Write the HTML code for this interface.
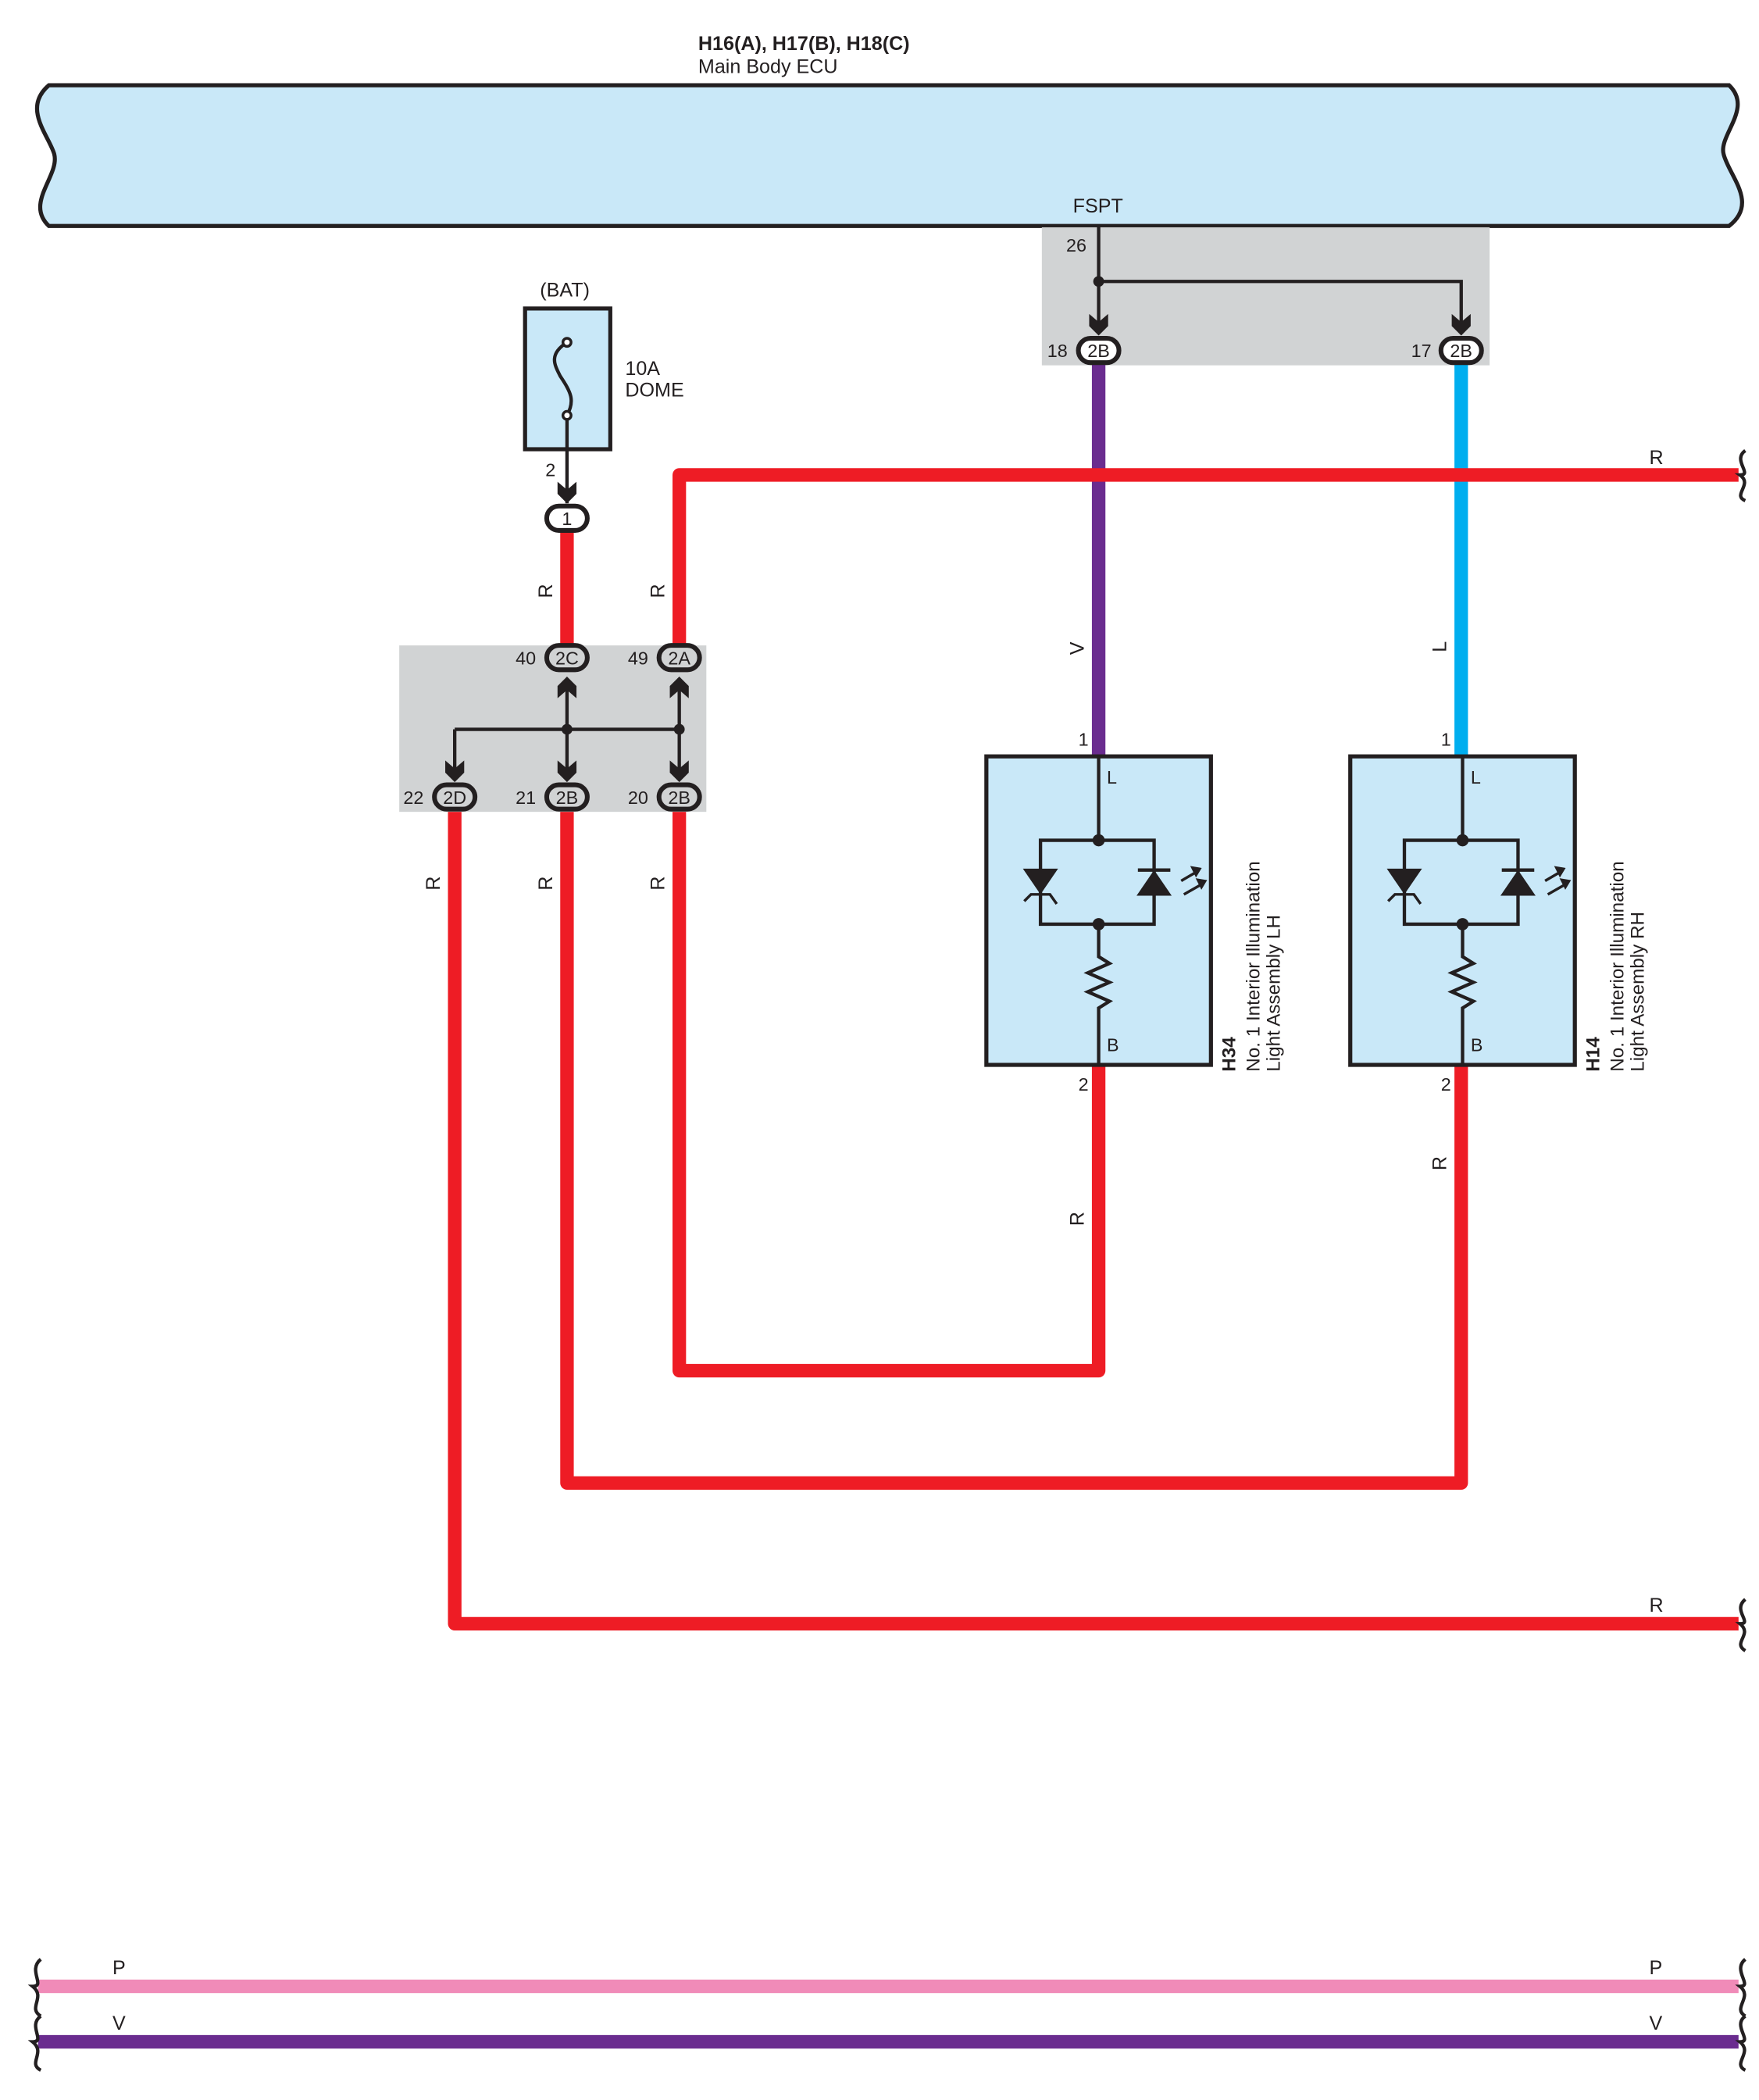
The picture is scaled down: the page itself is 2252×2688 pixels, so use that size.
<!DOCTYPE html>
<html><head><meta charset="utf-8"><style>
html,body{margin:0;padding:0;background:#fff;}
svg{display:block;}
text{font-family:"Liberation Sans",sans-serif;fill:#231f20;}
</style></head><body>
<svg width="2252" height="2688" viewBox="0 0 1300 1552" xmlns="http://www.w3.org/2000/svg">
<defs>
<path id="ad" d="M-7,-11 L0,-5 L7,-11 L7,-2 L0,5 L-7,-2 Z" fill="#231f20"/>
<path id="au" d="M-7,11 L0,5 L7,11 L7,2 L0,-5 L-7,2 Z" fill="#231f20"/>
<g id="con"><rect x="-15" y="-9" width="30" height="18" rx="9" fill="#fff" stroke="#231f20" stroke-width="3.5"/></g>
<g id="conG"><rect x="-15" y="-9" width="30" height="18" rx="9" fill="#d1d3d4" stroke="#231f20" stroke-width="3.5"/></g>
</defs>

<!-- ECU -->
<text x="516" y="37" font-size="14.5" font-weight="bold">H16(A), H17(B), H18(C)</text>
<text x="516" y="54" font-size="14.5">Main Body ECU</text>
<path d="M36,63 L1278,63 C1296,80 1270,100 1274,114 C1278,130 1300,150 1278,167 L36,167 C18,150 44,130 40,114 C36,100 16,80 36,63 Z" fill="#c9e8f8" stroke="#231f20" stroke-width="3"/>
<text x="793" y="157" font-size="14.5">FSPT</text>

<!-- top gray box -->
<rect x="770" y="168" width="331" height="102" fill="#d1d3d4"/>
<text x="788" y="186" font-size="13.5">26</text>
<path d="M812,167 V242 M812,208 H1080 V242" stroke="#231f20" stroke-width="2.5" fill="none"/>
<circle cx="812" cy="208" r="4" fill="#231f20"/>
<use href="#ad" x="812" y="243"/><use href="#ad" x="1080" y="243"/>
<rect x="807" y="268" width="10" height="291" fill="#6a2c8f"/>
<rect x="1075" y="268" width="10" height="291" fill="#00aeef"/>
<use href="#con" x="812" y="259"/><text x="812" y="264" font-size="13.5" text-anchor="middle">2B</text>
<use href="#con" x="1080" y="259"/><text x="1080" y="264" font-size="13.5" text-anchor="middle">2B</text>
<text x="774" y="264" font-size="13.5">18</text>
<text x="1043" y="264" font-size="13.5">17</text>

<!-- red wires -->
<g stroke="#ee1c25" stroke-width="10" fill="none" stroke-linejoin="round">
<path d="M1285,351 H502 V478"/>
<path d="M419,392 V478"/>
<path d="M502,598 V1013 H812 V786"/>
<path d="M419,598 V1096 H1080 V786"/>
<path d="M336,598 V1200 H1285"/>
</g>
<text x="1219" y="343" font-size="14.5">R</text>
<text x="1219" y="1191" font-size="14.5">R</text>
<path d="M1290,333 C1280,340 1296,351 1286,351 C1296,358 1280,366 1290,370" stroke="#231f20" stroke-width="2.5" fill="none"/>
<path d="M1290,1182 C1280,1190 1296,1200 1286,1200 C1296,1208 1280,1214 1290,1220" stroke="#231f20" stroke-width="2.5" fill="none"/>

<!-- fuse -->
<text x="399" y="219" font-size="14.5">(BAT)</text>
<rect x="388" y="228" width="63" height="104" fill="#c9e8f8" stroke="#231f20" stroke-width="3"/>
<path d="M419,253 C405,262 410,270 414,278 C422,290 425,296 419,307 M419,307 V372" stroke="#231f20" stroke-width="2.5" fill="none"/>
<circle cx="419" cy="253" r="3" fill="#fff" stroke="#231f20" stroke-width="2"/>
<circle cx="419" cy="307" r="3" fill="#fff" stroke="#231f20" stroke-width="2"/>
<text x="462" y="277" font-size="14.5">10A</text>
<text x="462" y="293" font-size="14.5">DOME</text>
<text x="403" y="352" font-size="13.5">2</text>
<use href="#ad" x="419" y="367"/>
<use href="#con" x="419" y="383"/><text x="419" y="388" font-size="13.5" text-anchor="middle">1</text>

<!-- middle gray box -->
<rect x="295" y="477" width="227" height="123" fill="#d1d3d4"/>
<path d="M419,508 V575 M502,508 V575 M336,539 H502 M336,539 V575" stroke="#231f20" stroke-width="2.5" fill="none"/>
<circle cx="419" cy="539" r="4" fill="#231f20"/><circle cx="502" cy="539" r="4" fill="#231f20"/>
<use href="#au" x="419" y="505"/><use href="#au" x="502" y="505"/>
<use href="#ad" x="336" y="573"/><use href="#ad" x="419" y="573"/><use href="#ad" x="502" y="573"/>
<use href="#conG" x="419" y="486"/><text x="419" y="491" font-size="13.5" text-anchor="middle">2C</text>
<use href="#conG" x="502" y="486"/><text x="502" y="491" font-size="13.5" text-anchor="middle">2A</text>
<use href="#conG" x="336" y="589"/><text x="336" y="594" font-size="13.5" text-anchor="middle">2D</text>
<use href="#conG" x="419" y="589"/><text x="419" y="594" font-size="13.5" text-anchor="middle">2B</text>
<use href="#conG" x="502" y="589"/><text x="502" y="594" font-size="13.5" text-anchor="middle">2B</text>
<text x="381" y="491" font-size="13.5">40</text>
<text x="464" y="491" font-size="13.5">49</text>
<text x="298" y="594" font-size="13.5">22</text>
<text x="381" y="594" font-size="13.5">21</text>
<text x="464" y="594" font-size="13.5">20</text>

<g font-size="14.5">
<text transform="translate(408,442) rotate(-90)">R</text>
<text transform="translate(491,442) rotate(-90)">R</text>
<text transform="translate(325,658) rotate(-90)">R</text>
<text transform="translate(408,658) rotate(-90)">R</text>
<text transform="translate(491,658) rotate(-90)">R</text>
<text transform="translate(801,484) rotate(-90)">V</text>
<text transform="translate(1069,482) rotate(-90)">L</text>
<text transform="translate(801,906) rotate(-90)">R</text>
<text transform="translate(1069,865) rotate(-90)">R</text>
</g>

<!-- LH assembly -->
<g id="lh">
<rect x="729" y="559" width="166" height="228" fill="#c9e8f8" stroke="#231f20" stroke-width="3"/>
<path d="M812,559 V621 M769,621 H853 V683 H769 Z M812,683 V707 L820,712 L804,719 L820,726 L804,733 L820,740 L812,745 V787" stroke="#231f20" stroke-width="2.5" fill="none"/>
<circle cx="812" cy="621" r="4.5" fill="#231f20"/><circle cx="812" cy="683" r="4.5" fill="#231f20"/>
<path d="M756,642 H782 L769,661 Z" fill="#231f20"/>
<path d="M757,666 L762,661 H776 L781,668" stroke="#231f20" stroke-width="2" fill="none"/>
<path d="M840,662 H866 L853,643 Z" fill="#231f20"/>
<path d="M841,643 H865" stroke="#231f20" stroke-width="2.5"/>
<path d="M873,651 L885,644 M875,661 L889,653" stroke="#231f20" stroke-width="2"/>
<path d="M887,642 L881,641 L884,647 Z M891,651 L885,650 L888,656 Z" fill="#231f20" stroke="#231f20" stroke-width="1.5"/>
<text x="818" y="579" font-size="13.5">L</text>
<text x="818" y="777" font-size="13.5">B</text>
</g>
<use href="#lh" x="269" y="0"/>
<text x="797" y="551" font-size="13.5">1</text>
<text x="1065" y="551" font-size="13.5">1</text>
<text x="797" y="806" font-size="13.5">2</text>
<text x="1065" y="806" font-size="13.5">2</text>
<g font-size="14">
<text transform="translate(913,792) rotate(-90)" font-weight="bold">H34</text>
<text transform="translate(931,792) rotate(-90)">No.  1 Interior Illumination</text>
<text transform="translate(946,792) rotate(-90)">Light Assembly LH</text>
<text transform="translate(1182,792) rotate(-90)" font-weight="bold">H14</text>
<text transform="translate(1200,792) rotate(-90)">No.  1 Interior Illumination</text>
<text transform="translate(1215,792) rotate(-90)">Light Assembly RH</text>
</g>

<!-- bottom wires -->
<rect x="28" y="1463" width="1257" height="10" fill="#f08bb8"/>
<rect x="28" y="1504" width="1257" height="10" fill="#6a2c8f"/>
<text x="83" y="1459" font-size="14.5">P</text>
<text x="1219" y="1459" font-size="14.5">P</text>
<text x="83" y="1500" font-size="14.5">V</text>
<text x="1219" y="1500" font-size="14.5">V</text>
<g stroke="#231f20" stroke-width="2.5" fill="none">
<path d="M30,1448 C20,1456 34,1468 24,1468 C34,1476 20,1484 30,1490"/>
<path d="M30,1490 C20,1497 34,1509 24,1509 C34,1517 20,1525 30,1530"/>
<path d="M1290,1448 C1280,1456 1296,1468 1286,1468 C1296,1476 1280,1484 1290,1490"/>
<path d="M1290,1490 C1280,1497 1296,1509 1286,1509 C1296,1517 1280,1525 1290,1530"/>
</g>
</svg>
</body></html>
